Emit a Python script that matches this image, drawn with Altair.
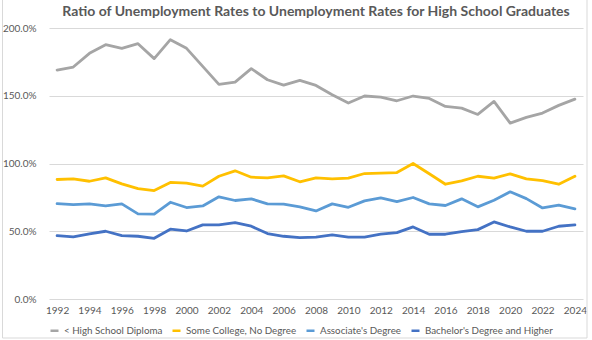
import altair as alt
import pandas as pd

years = list(range(1992, 2025))

series_names = [
    "< High School Diploma",
    "Some College, No Degree",
    "Associate's Degree",
    "Bachelor's Degree and Higher",
]
series_colors = ["#A5A5A5", "#FFC000", "#5B9BD5", "#4472C4"]

less_than_hs = [169.0, 171.2, 181.3, 187.7, 185.0, 188.4, 177.4, 191.4, 185.0, 171.7,
                158.4, 160.1, 170.0, 161.8, 157.9, 161.3, 157.6, 150.7, 144.6, 149.8,
                149.0, 146.3, 149.8, 148.0, 142.1, 140.9, 136.2, 145.8, 129.8, 134.0,
                137.2, 142.9, 147.5]
some_college = [88.2, 88.7, 86.9, 89.4, 85.0, 81.5, 80.0, 86.0, 85.5, 83.3,
                90.6, 94.6, 89.9, 89.4, 90.9, 86.5, 89.4, 88.7, 89.2, 92.6,
                92.9, 93.3, 100.0, 92.4, 84.7, 87.2, 90.6, 89.2, 92.4, 88.7,
                87.4, 84.7, 90.6]
associates = [70.4, 69.7, 70.2, 68.7, 70.2, 62.8, 62.6, 71.4, 67.5, 68.7,
              75.4, 72.7, 73.9, 70.2, 70.0, 68.0, 65.0, 70.2, 67.7, 72.4,
              74.6, 71.9, 74.9, 70.2, 69.0, 73.9, 68.0, 72.9, 79.1, 74.1,
              67.2, 69.2, 66.5]
bachelors = [46.8, 45.8, 48.0, 50.0, 46.8, 46.3, 44.8, 51.5, 50.2, 54.7,
             54.7, 56.4, 53.7, 48.3, 46.3, 45.3, 45.6, 47.3, 45.6, 45.6,
             47.8, 49.0, 53.2, 47.8, 47.8, 49.8, 51.2, 56.9, 53.2, 50.0,
             50.0, 53.7, 54.7]

x_ticks = list(range(1992, 2025, 2))
y_ticks = [0, 50, 100, 150, 200]

rows = []
for name, vals in zip(series_names, [less_than_hs, some_college, associates, bachelors]):
    for yr, v in zip(years, vals):
        rows.append({"Year": yr, "Series": name, "Value": v})
df = pd.DataFrame(rows)

FONT = "Lato"
TXT = "#595959"
W, H = 534, 271

lines = alt.Chart(df).mark_line(strokeWidth=2.8, strokeCap="round", strokeJoin="round").encode(
    x=alt.X("Year:Q",
            scale=alt.Scale(domain=[1991.5, 2024.5], nice=False, zero=False),
            axis=alt.Axis(values=x_ticks, format="d", title=None, grid=False,
                          ticks=False, domain=False, labelPadding=6,
                          labelFont=FONT, labelFontSize=10, labelColor=TXT)),
    y=alt.Y("Value:Q",
            scale=alt.Scale(domain=[0, 200], nice=False),
            axis=alt.Axis(values=y_ticks, title=None, ticks=False, domain=False,
                          labelExpr="format(datum.value, '.1f') + '%'",
                          gridColor="#D9D9D9", gridWidth=1, labelPadding=13,
                          labelFont=FONT, labelFontSize=10, labelColor=TXT)),
    color=alt.Color("Series:N",
                    scale=alt.Scale(domain=series_names, range=series_colors),
                    sort=series_names,
                    legend=alt.Legend(title=None, orient="none", direction="horizontal",
                                      legendX=0, legendY=297,
                                      symbolType="stroke", symbolSize=64,
                                      symbolStrokeWidth=2.5, labelOffset=4,
                                      columnPadding=4, padding=0,
                                      labelFont=FONT, labelFontSize=9.8, labelColor=TXT)),
)

frame = alt.Chart(alt.Data(values=[{}])).mark_rect(
    fill=None, stroke="#D9D9D9", strokeWidth=1
).encode(
    x=alt.value(-46.5), x2=alt.value(538), y=alt.value(-40), y2=alt.value(310)
)

chart = alt.layer(frame, lines).properties(
    width=W, height=H,
    title=alt.TitleParams(
        "Ratio of Unemployment Rates to Unemployment Rates for High School Graduates",
        anchor="middle", font=FONT, fontSize=14, fontWeight="bold", color=TXT,
        baseline="bottom", offset=-45),
    padding={"left": 49, "top": 28, "right": 9, "bottom": 41},
    autosize=alt.AutoSizeParams(type="none"),
).configure_view(stroke=None)

chart.save("out.html", embed_options={"renderer": "svg", "actions": False})
